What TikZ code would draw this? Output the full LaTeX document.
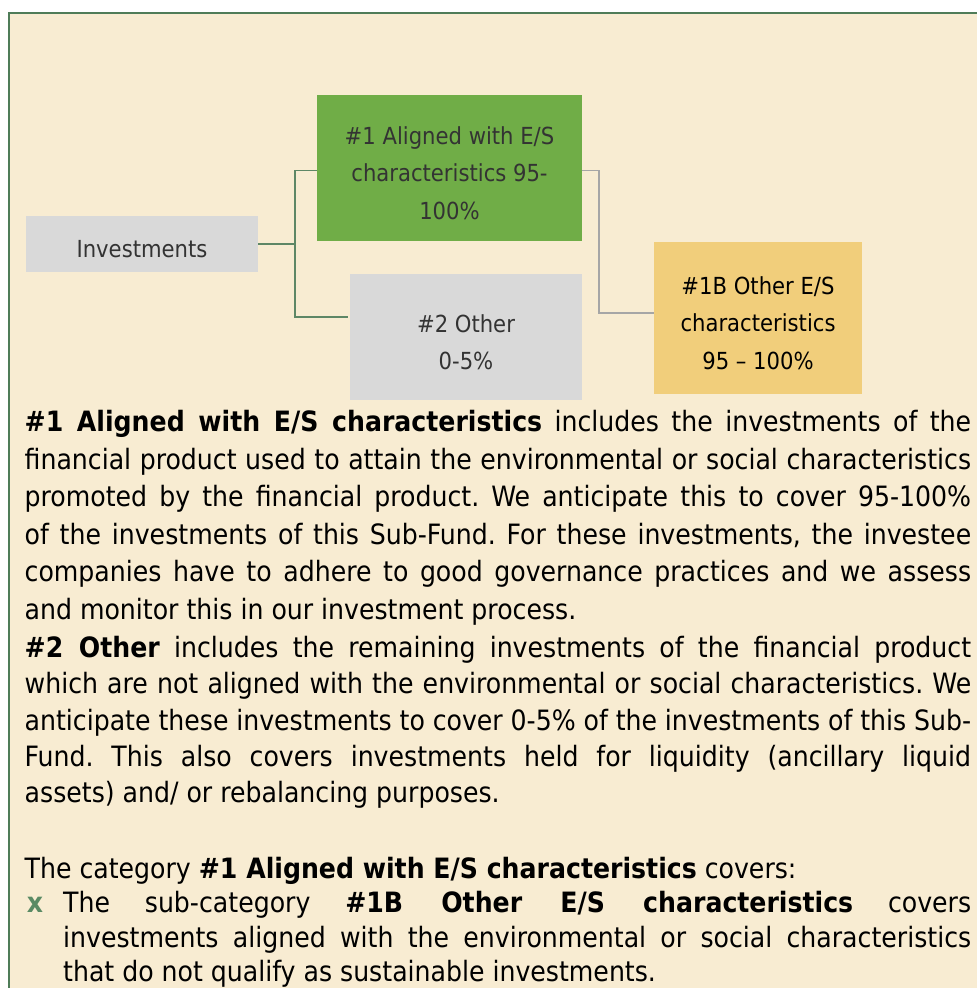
\documentclass[tikz,border=0pt]{standalone}
\usepackage{fontspec}
\setmainfont{DejaVu Sans Condensed}
\usepackage{xcolor}
\usepackage{tikz}
\definecolor{cream}{HTML}{F8ECD2}
\definecolor{framegreen}{HTML}{4F7C58}
\definecolor{linkgreen}{HTML}{5E8766}
\definecolor{linkgray}{HTML}{A6A6A6}
\definecolor{boxgreen}{HTML}{70AD47}
\definecolor{boxgray}{HTML}{D9D9D9}
\definecolor{boxyellow}{HTML}{F1CE7B}
\definecolor{boxtext}{HTML}{333333}
\definecolor{bulletgreen}{HTML}{5A8A64}
\newcommand{\tstrut}{\rule{0pt}{28pt}}
\tolerance=10000
\hyphenpenalty=10000
\exhyphenpenalty=10000
\frenchspacing

\begin{document}
\begin{tikzpicture}[x=1pt,y=-1pt]
\tikzstyle{every node}+=[inner sep=0pt]
\tikzstyle{box}=[align=center,font={\fontsize{23.5}{37.5}\selectfont},text=boxtext]
\tikzstyle{body}=[anchor=base west,align=justify,text width=946.5pt]
\useasboundingbox (0,0) rectangle (977,988);
\fill [white] (0,0) rectangle (977,988);
\fill [cream] (8,12) rectangle (977,988);
\draw [framegreen,line width=1.5pt] (8.75,988) -- (8.75,12.75) -- (977,12.75);
\node [box,fill=boxgray,minimum width=232pt,minimum height=56pt] (inv) at (142,244) {\tstrut Investments};
\node [box,fill=boxgreen,minimum width=265pt,minimum height=146pt] (aligned) at (449.5,168) {\tstrut\#1 Aligned with E/S\\characteristics 95-\\100\%};
\node [box,fill=boxgray,minimum width=232pt,minimum height=126pt] (other) at (466,337) {\tstrut\#2 Other\\0-5\%};
\node [box,fill=boxyellow,text=black,minimum width=208pt,minimum height=152pt] (otheres) at (758,318) {\tstrut\#1B Other E/S\\characteristics\\95 -- 100\%};
\coordinate (split) at (295,244);
\draw [linkgreen,line width=1.2pt] (inv.east) -- (split) |- ([yshift=-2.5pt]aligned.west);
\draw [linkgreen,line width=1.2pt] (split) |- ([xshift=-2pt,yshift=20pt]other.west);
\draw [linkgray,line width=1.5pt] ([yshift=-2.5pt]aligned.east) -- ++(17,0) |- ([yshift=5pt]otheres.west);
\node [body,font={\fontsize{28}{37.6}\selectfont}] (alignedtext) at (24.5,431.5) {\textbf{\#1 Aligned with E/S characteristics} includes the investments of the\linebreak financial product used to attain the environmental or social characteristics\linebreak promoted by the financial product. We anticipate this to cover 95-100\%\linebreak of the investments of this Sub-Fund. For these investments, the investee\linebreak companies have to adhere to good governance practices and we assess\linebreak and monitor this in our investment process.};
\node [body,font={\fontsize{28}{36.4}\selectfont}] (othertext) at (24.5,657.3) {\textbf{\#2 Other} includes the remaining investments of the financial product\linebreak which are not aligned with the environmental or social characteristics. We\linebreak anticipate these investments to cover 0-5\% of the investments of this Sub-\linebreak Fund. This also covers investments held for liquidity (ancillary liquid\linebreak assets) and/ or rebalancing purposes.};
\node [anchor=base west,font={\fontsize{28}{37.6}\selectfont}] (cattext) at (24.5,878.3) {The category \textbf{\#1 Aligned with E/S characteristics} covers:};
\node [body,text width=908pt,font={\fontsize{28}{34.5}\selectfont}] (subtext) at (63,912.7) {\llap{\textcolor{bulletgreen}{\textbf{x}}\hspace{20pt}}The sub-category \textbf{\#1B Other E/S characteristics} covers\linebreak investments aligned with the environmental or social characteristics\linebreak that do not qualify as sustainable investments.};
\end{tikzpicture}
\end{document}
